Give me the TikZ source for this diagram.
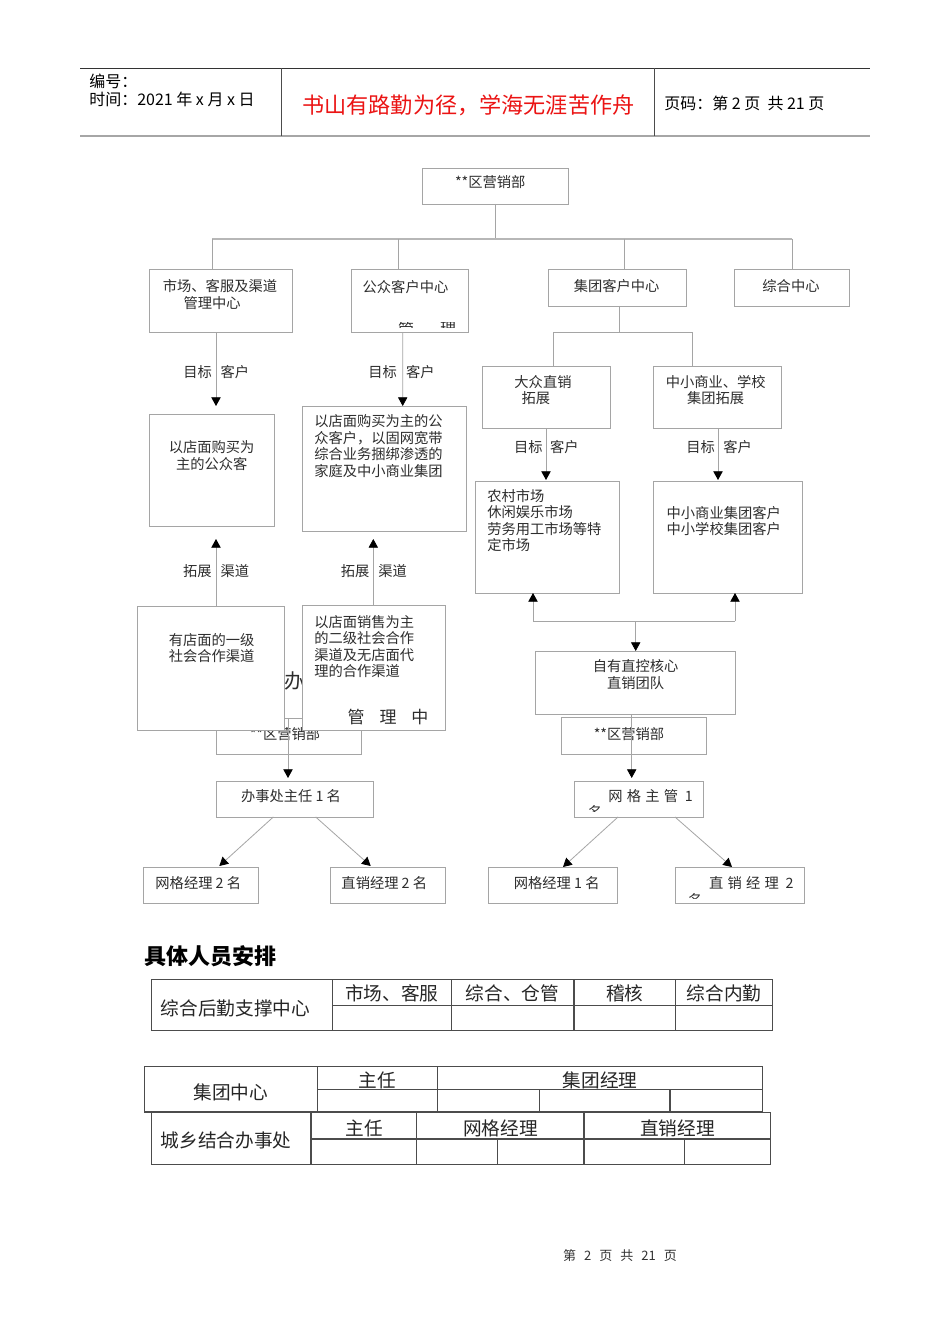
\documentclass[tikz,border=0pt]{standalone}
\usepackage{fontspec}
\setmainfont{Noto Sans CJK SC}
\usetikzlibrary{arrows.meta,calc}
\definecolor{lg}{RGB}{165,165,165}
\definecolor{tg}{RGB}{45,45,45}
\definecolor{hred}{RGB}{235,20,20}
\newcommand\fs[2]{\fontsize{#1pt}{#2pt}\selectfont}
\newcommand\mybox[6][]{\node[box,#1,minimum width={(#5-#3)*0.75pt},minimum height={(#6-#4)*0.75pt}] (#2) at ({(#3+#5)/2},{(#4+#6)/2}) {};}
\begin{document}
\begin{tikzpicture}[x=0.75pt,y=-0.75pt,
  box/.style={draw=lg, line width=0.6pt, fill=white, inner sep=0pt, outer sep=0pt},
  txt/.style={inner sep=0pt, outer sep=0pt, text=tg, font=\fs{10.7}{12.4}},
  conn/.style={draw=lg, line width=0.6pt},
  arr/.style={conn, -{Triangle[width=7pt,length=6.5pt,color=black]}},
  tcell/.style={draw=black!70, line width=0.9pt},
  ttxt/.style={inner sep=0pt, outer sep=0pt, text=black!85, font=\fs{14}{16}},
  htxt/.style={inner sep=0pt, outer sep=0pt, text=black, font=\fs{12}{14}}
]
\useasboundingbox (0,0) rectangle (950,1344);
\fill[white] (0,0) rectangle (950,1344);

% ---------- header ----------
\draw[black!80, line width=0.75pt] (80,68.3) -- (870,68.3);
\draw[gray!70, line width=1.5pt] (80,136) -- (870,136);
\draw[black!70, line width=0.75pt] (281,68.3) -- (281,136) (654.3,68.3) -- (654.3,136);
\node[htxt, anchor=west] (h1) at (89.3,81.7) {编号：};
\node[htxt, anchor=west] (h2) at (89.3,99.3) {时间：2021 年 x 月 x 日};
\node[htxt, text=hred, font=\fs{16.6}{18}] (h3) at (468.4,105) {书山有路勤为径，学海无涯苦作舟};
\node[htxt, anchor=west] (h4) at (664.3,103.3) {页码：第 2 页 \ 共 21 页};

% ---------- layered boxes (lower left) ----------
\mybox{lq}{216}{718}{361}{754}
\node[txt] (tt16) at (285,734) {**区营销部};
\node[txt, font=\fs{15}{17}] (ban) at (294,681) {办};
\mybox{yd}{137}{606}{284}{730}
\mybox{ys}{302}{605}{445}{730}

% ---------- boxes ----------
\mybox{top}{422}{168}{568}{204}
\mybox{b1}{149}{269}{292}{332}
\mybox{b2}{351}{269}{468}{332}
\mybox{b3}{548}{269}{686}{306}
\mybox{b4}{734}{269}{849}{306}
\mybox{tA}{149}{414}{274}{526}
\mybox{tB}{302}{406}{466}{531}
\mybox{dz}{482}{366}{610}{428}
\mybox{zx}{653}{366}{781}{428}
\mybox{nc}{475}{481}{619}{593}
\mybox{zk}{653}{481}{802}{593}
\mybox{zy}{535}{651}{735}{714}
\mybox{rq}{561}{717}{706}{754}
\mybox{bz}{216}{781}{373}{817}
\mybox{wz}{574}{781}{703}{817}
\mybox{wg2}{143}{867}{258}{903}
\mybox{zx2}{330}{867}{445}{903}
\mybox{wj1}{488}{867}{617}{903}
\mybox{zj1}{675}{867}{804}{903}

% ---------- box texts ----------
\node[txt, anchor=west] (tt0) at (455,182) {**区营销部};
\node[txt, align=center, anchor=north] (tt1) at (220,279.7) {市场、客服及渠道\\管理中心\hspace*{1.1em}};
\node[txt] (tt2) at (405.5,286.7) {公众客户中心};
\node[txt] (tt3) at (616.7,285.7) {集团客户中心};
\node[txt] (tt4) at (791,285.7) {综合中心};
\node[txt, align=center, anchor=north] (tt5) at (211.7,441) {以店面购买为\\主的公众客};
\node[txt, align=left, anchor=north west] (tt6) at (314.3,414.7) {以店面购买为主的公\\众客户，以固网宽带\\综合业务捆绑渗透的\\家庭及中小商业集团};
\node[txt, align=center, anchor=north] (tt7) at (543,375) {大众直销\\拓展\hspace*{1em}};
\node[txt, align=center, anchor=north] (tt8) at (715.7,375) {中小商业、学校\\集团拓展};
\node[txt, align=left, anchor=north west] (tt9) at (487.3,489) {农村市场\\休闲娱乐市场\\劳务用工市场等特\\定市场};
\node[txt, align=left, anchor=north west] (tt10) at (666.7,506) {中小商业集团客户\\中小学校集团客户};
\node[txt, align=center, anchor=north] (tt11) at (211.7,633) {有店面的一级\\社会合作渠道};
\node[txt, align=left, anchor=north west] (tt12) at (314.3,615.3) {以店面销售为主\\的二级社会合作\\渠道及无店面代\\理的合作渠道};
\node[txt, font=\fs{12.75}{15}, anchor=west] (tt13) at (347.5,716.7) {管\hspace{11.25pt}理\hspace{11.25pt}中};
\node[txt, align=center, anchor=north] (tt14) at (635.7,659.7) {自有直控核心\\直销团队};
\node[txt] (tt15) at (629,734) {**区营销部};
\node[txt] (tt17) at (291,795.7) {办事处主任 1 名};
\node[txt, anchor=west] (tt18) at (608.3,796) {网\hspace{3.2pt}格\hspace{3.2pt}主\hspace{3.2pt}管\hspace{5pt}1};
\node[txt] (tt19) at (198.3,883.3) {网格经理 2 名};
\node[txt] (tt20) at (384.3,883.3) {直销经理 2 名};
\node[txt] (tt21) at (556.7,883.3) {网格经理 1 名};
\node[txt, anchor=west] (tt22) at (709,883.3) {直\hspace{3.2pt}销\hspace{3.2pt}经\hspace{3.2pt}理\hspace{5pt}2};

% clipped fragments
\begin{scope}
  \clip (351,322.5) rectangle (468,327.5);
  \node[txt, font=\fs{12}{14}, anchor=north] (m1) at (406,322) {管};
  \node[txt, font=\fs{12}{14}, anchor=north] (m2) at (448,322) {理};
\end{scope}
\begin{scope}
  \clip (585,805.5) rectangle (600,811);
  \node[txt, anchor=north west] (f1) at (588,805) {名};
\end{scope}
\begin{scope}
  \clip (685,893.5) rectangle (700,898.5);
  \node[txt, anchor=north west] (f2) at (688,893) {名};
\end{scope}

% ---------- labels ----------
\node[txt, anchor=east] (l1a) at (212,372) {目标};
\node[txt, anchor=west] (l1b) at (220.5,372) {客户};
\node[txt, anchor=east] (l2a) at (397,372) {目标};
\node[txt, anchor=west] (l2b) at (406,372) {客户};
\node[txt, anchor=east] (l3a) at (542.7,446.7) {目标};
\node[txt, anchor=west] (l3b) at (550,446.7) {客户};
\node[txt, anchor=east] (l4a) at (715,446.7) {目标};
\node[txt, anchor=west] (l4b) at (723.3,446.7) {客户};
\node[txt, anchor=east] (l5a) at (211.7,571) {拓展};
\node[txt, anchor=west] (l5b) at (220.7,571) {渠道};
\node[txt, anchor=east] (l6a) at (369.3,571) {拓展};
\node[txt, anchor=west] (l6b) at (378.3,571) {渠道};

% ---------- connectors ----------
\draw[conn] (top.south) -- ($(top.south)+(0,35)$);
\draw[conn, line width=1.1pt, draw=lg!80] ($(b1.north)+(-8.5,-30)$) -- ($(b4.north)+(0.5,-30)$);
\draw[conn] ($(b1.north)+(-8.5,-30)$) -- ($(b1.north)+(-8.5,0)$);
\draw[conn] ($(b2.north)+(-11.5,-30)$) -- ($(b2.north)+(-11.5,0)$);
\draw[conn] ($(b3.north)+(7,-30)$) -- ($(b3.north)+(7,0)$);
\draw[conn] ($(b4.north)+(0.5,-30)$) -- ($(b4.north)+(0.5,0)$);

\draw[arr] ($(b1.south)+(-4.5,0)$) -- ($(tA.north)+(4.5,-8)$);
\draw[arr] ($(b2.south)+(-6.8,0)$) -- ($(tB.north)+(18.7,0)$);

\draw[conn] ($(b3.south)+(2,0)$) -- ($(b3.south)+(2,26)$);
\draw[conn] ($(dz.north)+(7,0)$) |- ($(zx.north)+(-25,-34)$) -- ($(zx.north)+(-25,0)$);
\draw[arr] (dz.south) -- ($(nc.north)+(-1,-1)$);
\draw[arr] ($(zx.south)+(1,0)$) -- ($(zk.north)+(-9.5,-1)$);

\draw[conn] ($(nc.south)+(-14,28)$) -- ($(zk.south)+(7.5,28)$);
\draw[arr] ($(nc.south)+(-14,28)$) -- ($(nc.south)+(-14,0)$);
\draw[arr] ($(zk.south)+(7.5,28)$) -- ($(zk.south)+(7.5,0)$);
\draw[arr] ($(zy.north)+(0.7,-30)$) -- ($(zy.north)+(0.7,0)$);
\draw[arr] ($(zy.south)+(-3.3,0)$) -- ($(wz.north)+(-6.8,-3)$);
\draw[arr] ($(wz.south)+(-20.5,0)$) -- ($(wj1.north)+(10.5,0)$);
\draw[arr] ($(wz.south)+(36.5,0)$) -- ($(zj1.north)+(-7.5,0)$);

\draw[arr] ($(yd.north)+(5.5,0)$) -- ($(tA.south)+(4.5,13)$);
\draw[arr] ($(ys.north)+(-0.2,0)$) -- ($(tB.south)+(-10.7,8)$);
\draw[arr] ($(lq.north)+(-0.5,0)$) -- ($(bz.north)+(-6.5,-3)$);
\draw[arr] ($(bz.south)+(-21.2,0)$) -- ($(wg2.north)+(18.8,-1)$);
\draw[arr] ($(bz.south)+(21.2,0)$) -- ($(zx2.north)+(-16.8,-1)$);

% ---------- heading ----------
\node[inner sep=0pt, anchor=west, font=\fs{16.5}{18}\bfseries] (hd) at (144,956) {具体人员安排};

% ---------- table 1 ----------
\draw[tcell] (151.6,979.3) rectangle (772.8,1030.7);
\draw[tcell] (332.1,1005.3) -- (772.8,1005.3);
\foreach \xx in {332.1,451.2,574,675.3} \draw[tcell] (\xx,979.3) -- (\xx,1030.7);
\node[ttxt, anchor=west] (ta0) at (160.8,1008.3) {综合后勤支撑中心};
\node[ttxt] (ta1) at (391.7,993.3) {市场、客服};
\node[ttxt] (ta2) at (512.6,993.3) {综合、仓管};
\node[ttxt] (ta3) at (624.7,993.3) {稽核};
\node[ttxt] (ta4) at (724,993.3) {综合内勤};

% ---------- table 2 ----------
\draw[tcell] (144.1,1066.7) rectangle (762.4,1112);
\draw[tcell] (317.6,1089.3) -- (762.4,1089.3);
\draw[tcell] (317.6,1066.7) -- (317.6,1112) (437.5,1066.7) -- (437.5,1112);
\draw[tcell] (539.6,1089.3) -- (539.6,1112) (669.9,1089.3) -- (669.9,1112);
\node[ttxt] (tb0) at (230.8,1092.7) {集团中心};
\node[ttxt] (tb1) at (377.5,1080) {主任};
\node[ttxt] (tb2) at (600,1080) {集团经理};

% ---------- table 3 ----------
\draw[tcell] (151.6,1112.7) rectangle (770.7,1164.3);
\draw[tcell] (311,1139) -- (770.7,1139);
\foreach \xx in {311,416.8,584} \draw[tcell] (\xx,1112.7) -- (\xx,1164.3);
\draw[tcell] (497.7,1139) -- (497.7,1164.3) (684.4,1139) -- (684.4,1164.3);
\node[ttxt, anchor=west] (tc0) at (160.7,1140.7) {城乡结合办事处};
\node[ttxt] (tc1) at (364,1128.3) {主任};
\node[ttxt] (tc2) at (500.4,1128.3) {网格经理};
\node[ttxt] (tc3) at (677.4,1128.3) {直销经理};

% ---------- footer ----------
\node[inner sep=0pt, text=black!80, font=\fs{9.75}{12}] (ft) at (620,1256) {第\hspace{6pt}2\hspace{6pt}页\hspace{6pt}共\hspace{6pt}21\hspace{6pt}页};
\end{tikzpicture}
\end{document}
